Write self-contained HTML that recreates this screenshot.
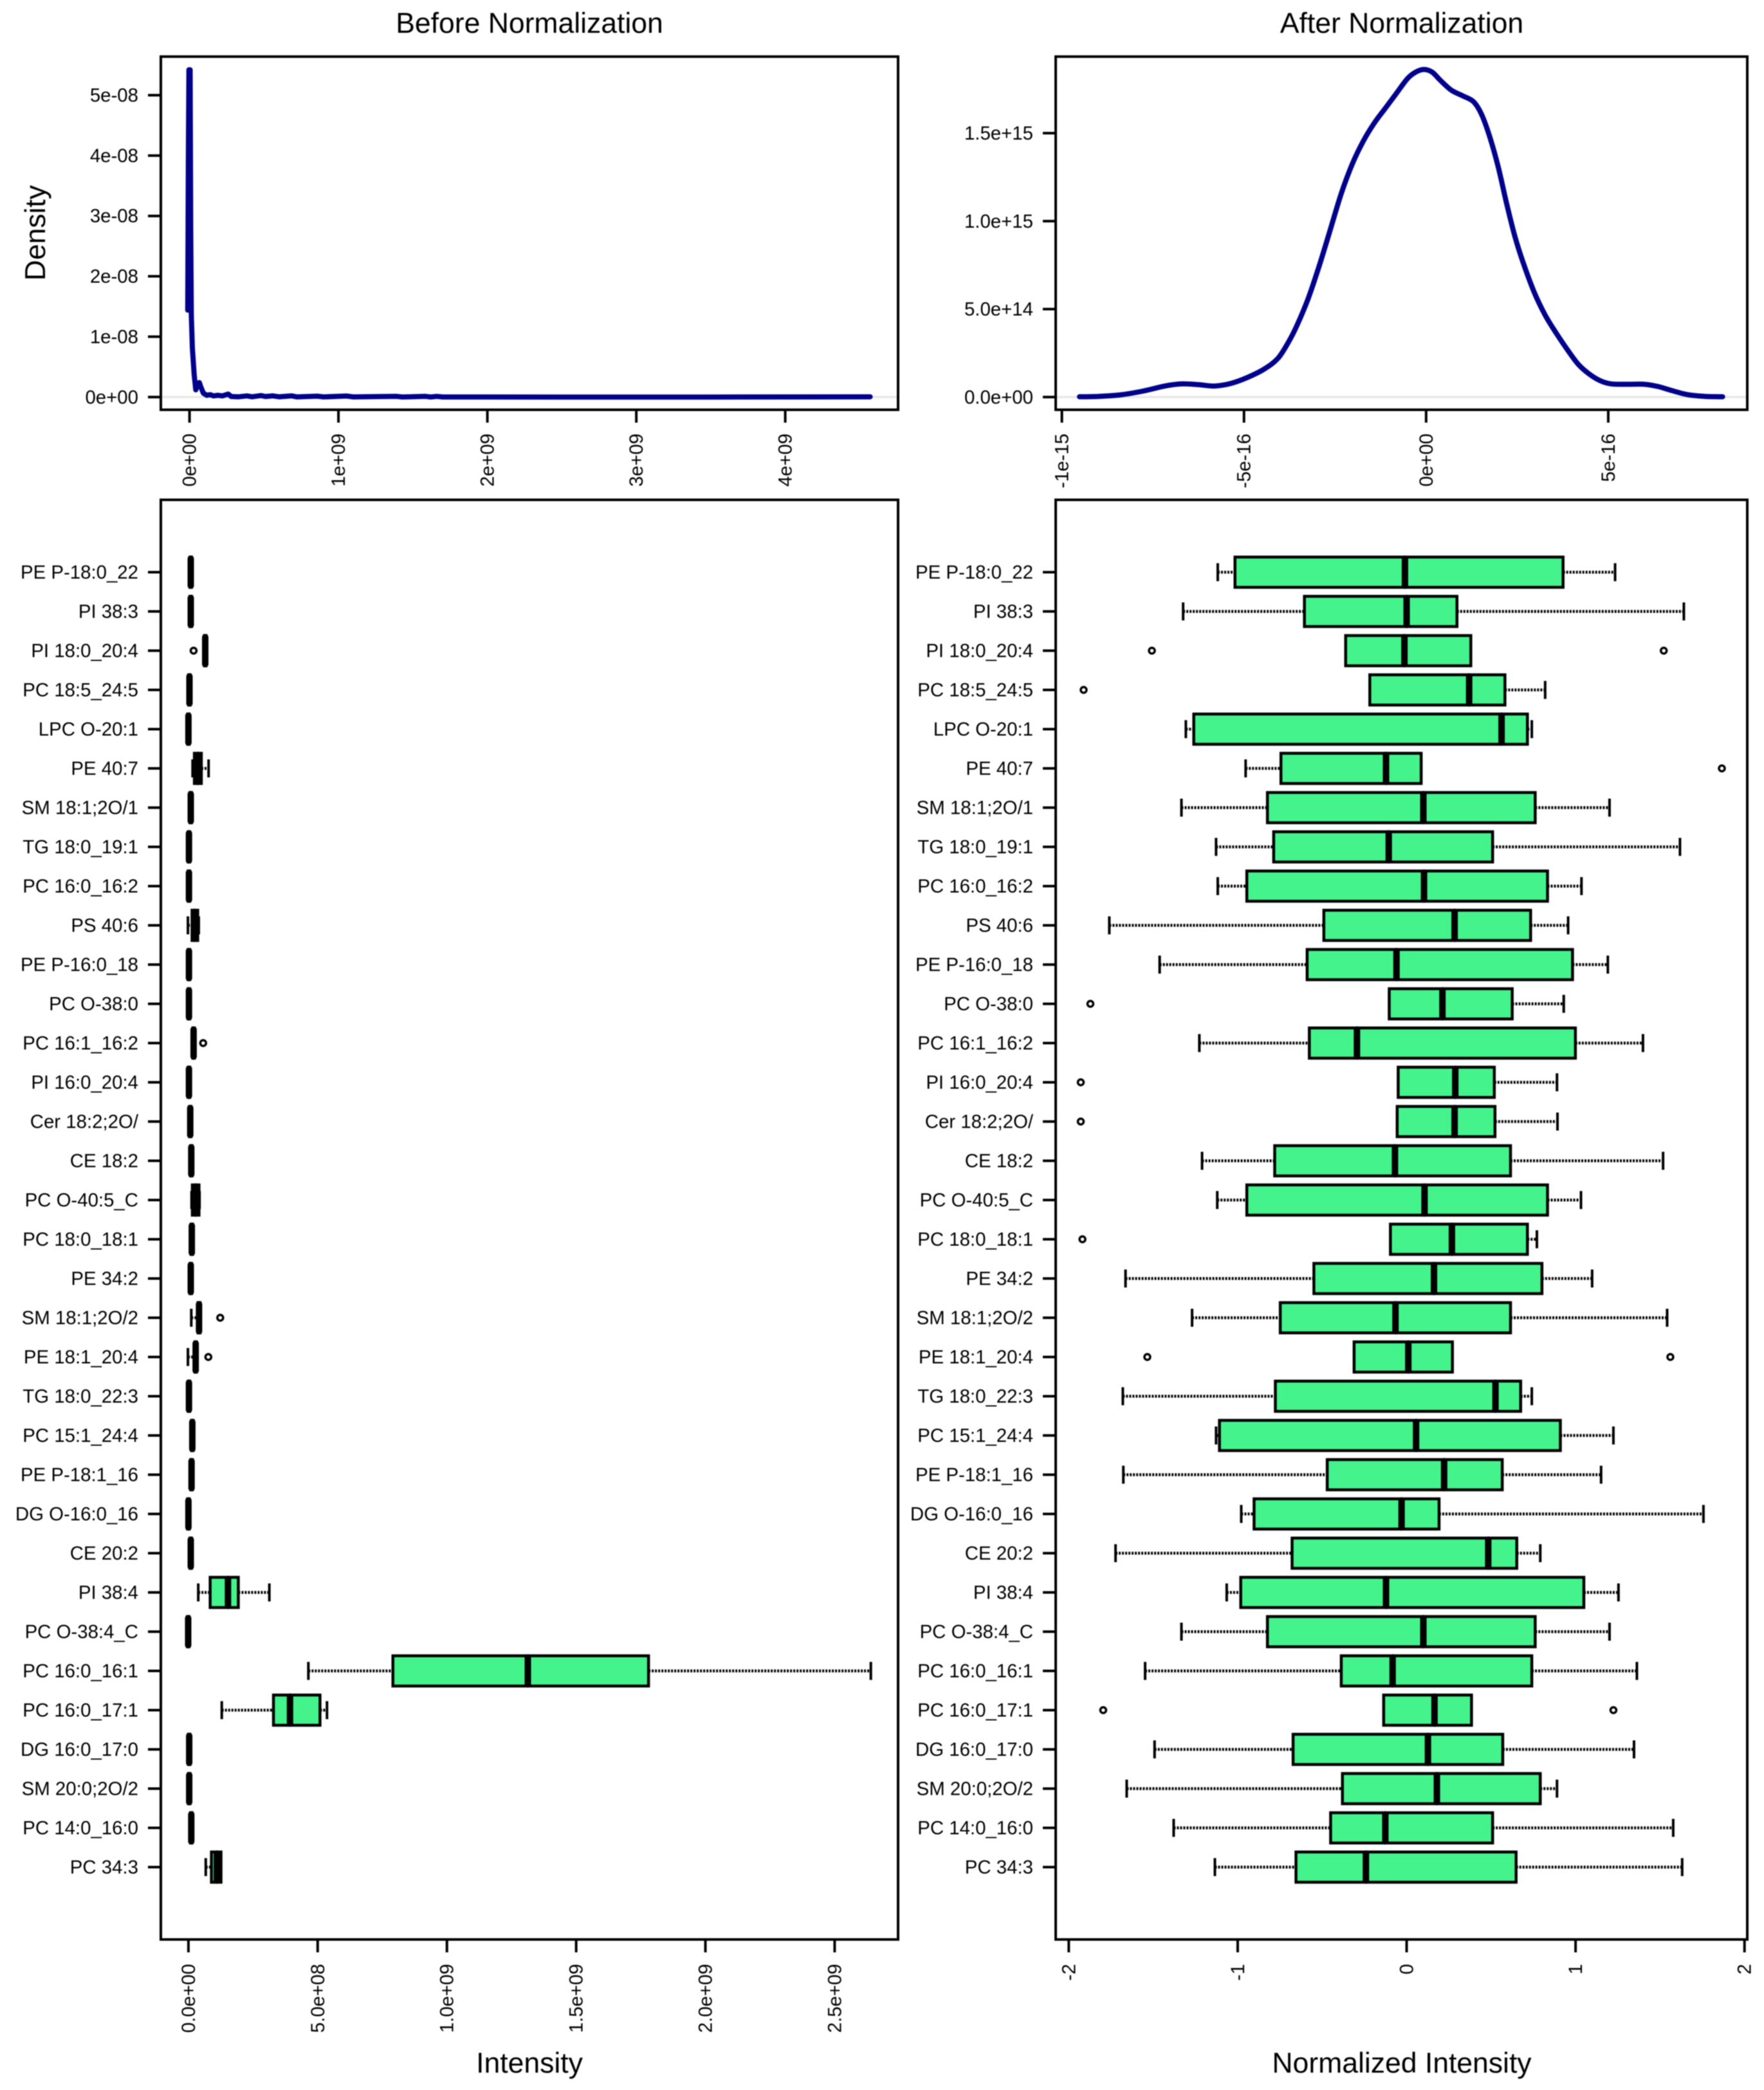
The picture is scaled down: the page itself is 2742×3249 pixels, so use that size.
<!DOCTYPE html>
<html lang="en">
<head>
<meta charset="utf-8">
<title>Before and After Normalization</title>
<style>
html,body{margin:0;padding:0;background:#fff;}
svg{display:block;filter:blur(0.9px);}
text{font-family:"Liberation Sans",sans-serif;fill:#000;}
</style>
</head>
<body>
<svg id="chart" xmlns="http://www.w3.org/2000/svg" width="2742" height="3249" viewBox="0 0 2742 3249">
  <rect x="0" y="0" width="2742" height="3249" fill="#fff"/>
  <text x="823" y="51" font-size="44.5" text-anchor="middle">Before Normalization</text>
  <text x="2179" y="51" font-size="44.5" text-anchor="middle">After Normalization</text>
  <text transform="translate(70,362) rotate(-90)" font-size="44.5" text-anchor="middle">Density</text>
  <text x="823" y="3222" font-size="44.5" text-anchor="middle">Intensity</text>
  <text x="2179" y="3222" font-size="44.5" text-anchor="middle">Normalized Intensity</text>
  <g id="density-before"></g>
  <g id="density-after"></g>
  <g id="box-before"></g>
  <g id="box-after"></g>
</svg>
<script>
// Lipid categories, top to bottom
const categories = ["PE P-18:0_22","PI 38:3","PI 18:0_20:4","PC 18:5_24:5","LPC O-20:1","PE 40:7","SM 18:1;2O/1","TG 18:0_19:1","PC 16:0_16:2","PS 40:6","PE P-16:0_18","PC O-38:0","PC 16:1_16:2","PI 16:0_20:4","Cer 18:2;2O/","CE 18:2","PC O-40:5_C","PC 18:0_18:1","PE 34:2","SM 18:1;2O/2","PE 18:1_20:4","TG 18:0_22:3","PC 15:1_24:4","PE P-18:1_16","DG O-16:0_16","CE 20:2","PI 38:4","PC O-38:4_C","PC 16:0_16:1","PC 16:0_17:1","DG 16:0_17:0","SM 20:0;2O/2","PC 14:0_16:0","PC 34:3"];

// Raw intensity boxplot statistics (units of 1e9)
const rawLow = [.006,.006,.062,.001,-.003,.016,.006,-.001,-.001,-.002,-.001,-.001,.017,-.001,.004,.008,.012,.010,.006,.011,-.002,-.001,.012,.009,-.003,.006,.038,-.004,.464,.129,.000,.000,.008,.067];
const rawQ1 = [.006,.006,.062,.001,-.003,.023,.006,-.001,-.001,.014,-.001,-.001,.017,-.001,.004,.008,.015,.010,.006,.037,.025,-.001,.012,.009,-.003,.006,.084,-.004,.791,.329,.000,.000,.008,.089];
const rawMedian = [.009,.009,.065,.004,.000,.036,.009,.002,.002,.024,.002,.002,.020,.002,.007,.011,.028,.013,.009,.041,.028,.002,.015,.012,.000,.009,.153,-.001,1.313,.393,.003,.003,.011,.110];
const rawQ3 = [.012,.012,.068,.007,.003,.050,.012,.005,.005,.036,.005,.005,.023,.005,.010,.014,.041,.016,.012,.045,.031,.005,.018,.015,.003,.012,.193,.002,1.780,.509,.006,.006,.014,.126];
const rawHigh = [.012,.012,.068,.007,.003,.078,.012,.005,.005,.040,.005,.005,.023,.005,.010,.014,.043,.016,.012,.045,.031,.005,.018,.015,.003,.012,.313,.002,2.640,.536,.006,.006,.014,.126];
const rawOutliers = [[],[],[.020],[],[],[],[],[],[],[],[],[],[.057],[],[],[],[],[],[],[.123],[.077],[],[],[],[],[],[],[],[],[],[],[],[],[]];

// Normalized intensity boxplot statistics
const normLow = [-1.118,-1.323,-.361,-.218,-1.307,-.953,-1.333,-1.128,-1.118,-1.760,-1.462,-.103,-1.227,-.050,-.056,-1.211,-1.121,-.096,-1.664,-1.270,-.311,-1.680,-1.128,-1.677,-.979,-1.723,-1.065,-1.333,-1.548,-.136,-1.492,-1.657,-1.379,-1.135];
const normQ1 = [-1.016,-.605,-.361,-.218,-1.260,-.744,-.824,-.787,-.946,-.490,-.589,-.103,-.576,-.050,-.056,-.781,-.946,-.096,-.549,-.748,-.311,-.777,-1.108,-.470,-.903,-.678,-.982,-.824,-.387,-.136,-.672,-.380,-.450,-.655];
const normMedian = [-.010,0,-.013,.370,.562,-.122,.099,-.106,.103,.284,-.060,.212,-.294,.288,.284,-.069,.106,.268,.162,-.066,.010,.526,.056,.222,-.030,.483,-.122,.099,-.083,.165,.126,.179,-.126,-.241];
const normQ3 = [.926,.298,.380,.582,.715,.086,.761,.509,.834,.734,.982,.625,.999,.519,.523,.615,.834,.715,.801,.615,.271,.675,.910,.566,.192,.652,1.049,.761,.741,.384,.569,.791,.509,.648];
const normHigh = [1.234,1.641,.380,.820,.741,.086,1.201,1.618,1.035,.956,1.191,.930,1.399,.890,.893,1.518,1.032,.771,1.098,1.542,.271,.741,1.224,1.151,1.757,.791,1.254,1.201,1.363,.384,1.346,.890,1.578,1.631];
const normOutliers = [[],[],[-1.508,1.522],[-1.912],[],[1.866],[],[],[],[],[],[-1.872],[],[-1.929],[-1.929],[],[],[-1.919],[],[],[-1.535,1.561],[],[],[],[],[],[],[],[],[-1.796,1.224],[],[],[],[]];

// Density before normalization: x in 1e9, y in 1e-8
const densityRawX = [-.012,-.008,-.004,.004,.008,.012,.019,.031,.042,.054,.066,.077,.093,.116,.139,.162,.19,.22,.26,.28,.33,.386,.42,.48,.51,.56,.6,.687,.72,.857,.9,1.054,1.1,1.39,1.43,1.583,1.62,1.66,1.7,2.5,3.5,4.57];
const densityRawY = [1.44,3.86,5.42,5.42,2.77,1.36,.82,.38,.12,.22,.24,.16,.065,.03,.04,.02,.03,.02,.05,.01,.005,.02,.005,.025,.01,.02,.005,.02,.003,.015,.003,.018,.003,.012,.002,.012,.002,.012,.002,.001,.001,.005];

// Density after normalization: x in 1e-16, y in 1e15
const densityNormX = [-9.516,-8.986,-8.381,-7.776,-7.171,-6.717,-6.263,-5.809,-5.356,-4.902,-4.448,-4.070,-3.767,-3.540,-3.238,-2.935,-2.632,-2.330,-2.027,-1.725,-1.422,-1.120,-.817,-.514,-.287,-.061,.166,.393,.696,.998,1.301,1.528,1.755,1.982,2.209,2.436,2.663,2.965,3.268,3.570,3.873,4.175,4.478,4.781,5.083,5.537,5.991,6.369,6.747,7.201,7.655,8.139];
const densityNormY = [.002,.004,.013,.034,.063,.075,.071,.063,.078,.112,.159,.220,.317,.410,.560,.746,.951,1.157,1.325,1.455,1.558,1.642,1.726,1.810,1.847,1.862,1.847,1.800,1.744,1.713,1.679,1.604,1.474,1.306,1.101,.914,.765,.597,.466,.364,.271,.187,.131,.093,.075,.073,.073,.060,.037,.013,.004,.002];

// Axis ticks and tick labels
const densityRawXTicks = [0,1,2,3,4];
const densityRawXLabels = ["0e+00","1e+09","2e+09","3e+09","4e+09"];
const densityRawYTicks = [0,1,2,3,4,5];
const densityRawYLabels = ["0e+00","1e-08","2e-08","3e-08","4e-08","5e-08"];
const densityNormXTicks = [-10,-5,0,5];
const densityNormXLabels = ["-1e-15","-5e-16","0e+00","5e-16"];
const densityNormYTicks = [0,.5,1,1.5];
const densityNormYLabels = ["0.0e+00","5.0e+14","1.0e+15","1.5e+15"];
const rawXTicks = [0,.5,1,1.5,2,2.5];
const rawXLabels = ["0.0e+00","5.0e+08","1.0e+09","1.5e+09","2.0e+09","2.5e+09"];
const normXTicks = [-2,-1,0,1,2];
const normXLabels = ["-2","-1","0","1","2"];

const SVGNS = "http://www.w3.org/2000/svg";
function mk(tag, attrs, parent, text) {
  const el = document.createElementNS(SVGNS, tag);
  for (const k in attrs) el.setAttribute(k, attrs[k]);
  if (text !== undefined) el.textContent = text;
  parent.appendChild(el);
  return el;
}
function slug(s) {
  return s.toLowerCase().replace(/[^a-z0-9]+/g, '-').replace(/^-|-$/g, '');
}

// Axis functions
const axDensRawX = v => 294.6 + 231.5 * v;
const axDensRawY = v => 617.3 - 93.87 * v;
const axDensNormX = v => 2216.8 + 56.62 * v;
const axDensNormY = v => 617.3 - 273.5 * v;
const axRawX = v => 292.9 + 401.8 * v;
const axNormX = v => 2186.5 + 262.6 * v;
const axRow = i => 889.5 + 61 * i;

function drawFrame(parent, x0, y0, x1, y1, prefix) {
  const el = mk('rect', {x:x0, y:y0, width:x1-x0, height:y1-y0, fill:'none', stroke:'#000', 'stroke-width':4}, parent);
  
  
}
function drawYTick(parent, axisX, y, label, prefix) {
  const t = mk('line', {x1:axisX-20, x2:axisX, y1:y, y2:y, stroke:'#000', 'stroke-width':4}, parent);
  
  
  const l = mk('text', {x:axisX-35, y:y+10, 'font-size':29.4, 'text-anchor':'end'}, parent, label);
  
  
}
function drawXTick(parent, x, axisY, labelEnd, label, prefix) {
  const t = mk('line', {x1:x, x2:x, y1:axisY, y2:axisY+20, stroke:'#000', 'stroke-width':4}, parent);
  
  
  const l = mk('text', {transform:'translate(' + (x+10) + ',' + labelEnd + ') rotate(-90)', 'font-size':29.4, 'text-anchor':'end'}, parent, label);
  
  
}
function smoothPath(pts) {
  let d = 'M' + pts[0][0].toFixed(2) + ' ' + pts[0][1].toFixed(2);
  for (let i = 0; i < pts.length - 1; i++) {
    const p0 = pts[Math.max(0, i-1)], p1 = pts[i], p2 = pts[i+1], p3 = pts[Math.min(pts.length-1, i+2)];
    const c1x = p1[0] + (p2[0]-p0[0])/6, c1y = p1[1] + (p2[1]-p0[1])/6;
    const c2x = p2[0] - (p3[0]-p1[0])/6, c2y = p2[1] - (p3[1]-p1[1])/6;
    d += 'C' + c1x.toFixed(2) + ' ' + c1y.toFixed(2) + ' ' + c2x.toFixed(2) + ' ' + c2y.toFixed(2) + ' ' + p2[0].toFixed(2) + ' ' + p2[1].toFixed(2);
  }
  return d;
}
function linePath(pts) {
  return 'M' + pts.map(p => p[0].toFixed(2) + ' ' + p[1].toFixed(2)).join('L');
}

function drawDensity(parent, frame, xs, ys, axX, axY, xTicks, xLabels, yTicks, yLabels, smooth, prefix) {
  const zero = mk('line', {x1:frame[0], x2:frame[2], y1:axY(0), y2:axY(0), stroke:'#e8e8e8', 'stroke-width':3.5}, parent);
  
  
  const pts = xs.map((x, i) => [axX(x), axY(ys[i])]);
  const curve = mk('path', {d: smooth ? smoothPath(pts) : linePath(pts), fill:'none', stroke:'#00008b', 'stroke-width':8, 'stroke-linejoin':'round', 'stroke-linecap':'round'}, parent);
  
  
  drawFrame(parent, frame[0], frame[1], frame[2], frame[3], prefix);
  yTicks.forEach((v, i) => drawYTick(parent, frame[0], axY(v), yLabels[i], prefix));
  xTicks.forEach((v, i) => drawXTick(parent, axX(v), frame[3], 674, xLabels[i], prefix));
}

function drawBoxes(parent, frame, axX, low, q1, med, q3, high, outliers, xTicks, xLabels, prefix) {
  categories.forEach((cat, i) => {
    const y = axRow(i);
    const row = mk('g', {}, parent);
    
    
    const wl = mk('line', {x1:axX(low[i]), x2:axX(q1[i]), y1:y, y2:y, stroke:'#000', 'stroke-width':4.5, 'stroke-dasharray':'3 2'}, row);
    
    
    const wh = mk('line', {x1:axX(q3[i]), x2:axX(high[i]), y1:y, y2:y, stroke:'#000', 'stroke-width':4.5, 'stroke-dasharray':'3 2'}, row);
    
    
    const cl = mk('line', {x1:axX(low[i]), x2:axX(low[i]), y1:y-14, y2:y+14, stroke:'#000', 'stroke-width':4}, row);
    
    
    const ch = mk('line', {x1:axX(high[i]), x2:axX(high[i]), y1:y-14, y2:y+14, stroke:'#000', 'stroke-width':4}, row);
    
    
    const box = mk('rect', {x:axX(q1[i]), y:y-23.5, width:axX(q3[i])-axX(q1[i]), height:47, fill:'#45f38c', stroke:'#000', 'stroke-width':4.5}, row);
    
    
    const m = mk('line', {x1:axX(med[i]), x2:axX(med[i]), y1:y-21, y2:y+21, stroke:'#000', 'stroke-width':10, 'stroke-linecap':'round'}, row);
    
    
    outliers[i].forEach(v => {
      const c = mk('circle', {cx:axX(v), cy:y, r:4.5, fill:'#fff', stroke:'#000', 'stroke-width':3.5}, row);
      
      
    });
    drawYTick(parent, frame[0], y, cat, prefix);
  });
  drawFrame(parent, frame[0], frame[1], frame[2], frame[3], prefix);
  xTicks.forEach((v, i) => drawXTick(parent, axX(v), frame[3], 3053, xLabels[i], prefix));
}

drawDensity(document.getElementById('density-before'), [250,88,1396,637], densityRawX, densityRawY, axDensRawX, axDensRawY, densityRawXTicks, densityRawXLabels, densityRawYTicks, densityRawYLabels, false, 'density-before');
drawDensity(document.getElementById('density-after'), [1641,88,2716,637], densityNormX, densityNormY, axDensNormX, axDensNormY, densityNormXTicks, densityNormXLabels, densityNormYTicks, densityNormYLabels, true, 'density-after');
drawBoxes(document.getElementById('box-before'), [250,777,1396,3015], axRawX, rawLow, rawQ1, rawMedian, rawQ3, rawHigh, rawOutliers, rawXTicks, rawXLabels, 'intensity');
drawBoxes(document.getElementById('box-after'), [1641,777,2716,3015], axNormX, normLow, normQ1, normMedian, normQ3, normHigh, normOutliers, normXTicks, normXLabels, 'normalized');
</script>
</body>
</html>
